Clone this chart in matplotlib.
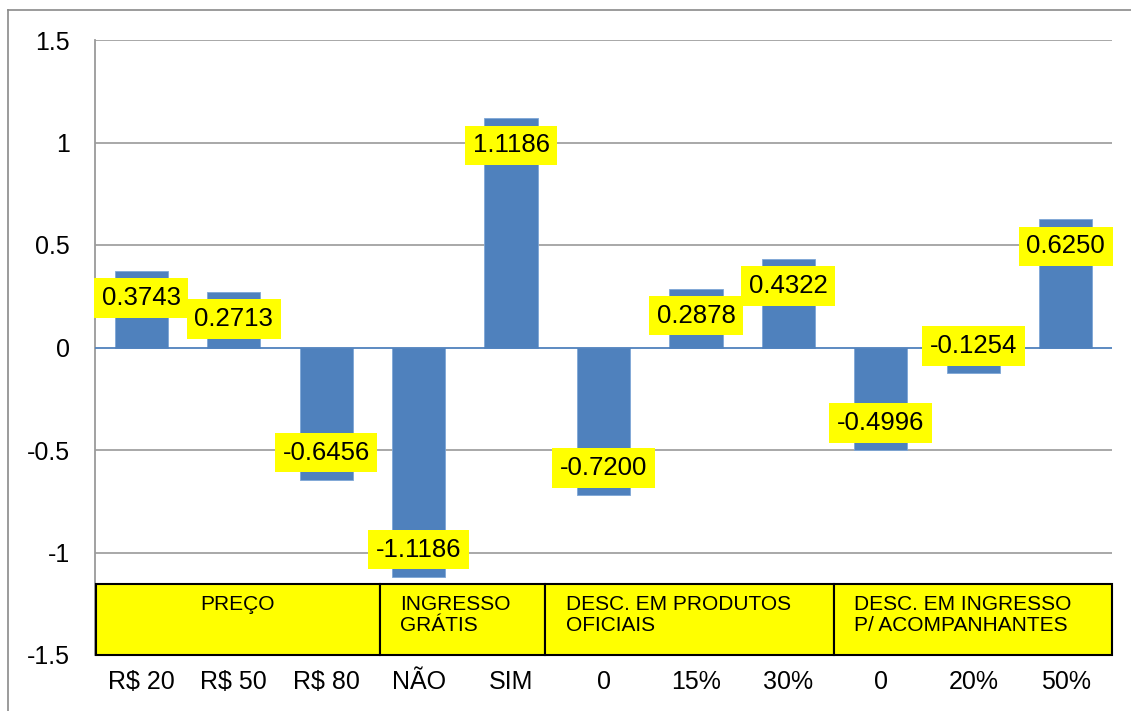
import matplotlib
matplotlib.use("Agg")
import matplotlib.pyplot as plt
import matplotlib.patches as mpatches
from matplotlib.lines import Line2D
import numpy as np

plt.rcParams["font.family"] = ["Liberation Sans", "DejaVu Sans"]

# ---- data ----
categories = ["R$ 20", "R$ 50", "R$ 80", "NÃO", "SIM", "0", "15%", "30%", "0", "20%", "50%"]
values = [0.3743, 0.2713, -0.6456, -1.1186, 1.1186, -0.7200, 0.2878, 0.4322, -0.4996, -0.1254, 0.6250]
groups = ["PREÇO", "INGRESSO\nGRÁTIS", "DESC. EM PRODUTOS\nOFICIAIS", "DESC. EM INGRESSO\nP/ ACOMPANHANTES"]
group_edges = [-0.49, 2.58, 4.37, 7.49, 10.5]
group_centered = [True, False, False, False]

BAR = "#4F81BD"
YEL = "#FFFF00"
GRID = "#9a9a9a"

fig = plt.figure(figsize=(11.31, 7.11), dpi=100)
ax = fig.add_axes([95 / 1131, 1 - 655 / 711, (1112 - 95) / 1131, (655 - 40) / 711])

# outer chart frame (cropped at right/bottom)
fig.add_artist(Line2D([8 / 1131, 1.0], [1 - 10 / 711] * 2, color="#8a8a8a", lw=1.2))
fig.add_artist(Line2D([8 / 1131] * 2, [0.0, 1 - 10 / 711], color="#8a8a8a", lw=1.2))

x = np.arange(len(categories))
ax.bar(x, values, width=0.575, color=BAR, edgecolor="#7ea6d6", linewidth=0.6, zorder=3)

ax.set_xlim(-0.5, len(categories) - 0.5)
ax.set_ylim(-1.5, 1.5)
ax.set_yticks([-1.5, -1, -0.5, 0, 0.5, 1, 1.5])
ax.set_yticklabels(["-1.5", "-1", "-0.5", "0", "0.5", "1", "1.5"])
ax.set_xticks(x)
ax.set_xticklabels(categories)
ax.tick_params(axis="y", length=0, pad=18, labelsize=18)
ax.tick_params(axis="x", length=0, pad=11, labelsize=18)

for s in ["top", "right", "bottom"]:
    ax.spines[s].set_visible(False)
ax.spines["left"].set_color(GRID)
ax.spines["left"].set_linewidth(1.3)

for yv in [-1, -0.5, 0.5, 1, 1.5]:
    ax.axhline(yv, color=GRID, lw=1.2, zorder=1)
ax.axhline(0, color=BAR, lw=1.3, zorder=4)

# value labels (inside end)
for xi, v in zip(x, values):
    ax.annotate(f"{v:.4f}", xy=(xi, v), xytext=(0, -np.sign(v) * 19.5),
                textcoords="offset points", ha="center", va="center",
                fontsize=18.5, zorder=6,
                bbox=dict(boxstyle="square,pad=0.3", fc=YEL, ec="none"))

# category group table
box_top, box_bot = -1.153, -1.5
for i, g in enumerate(groups):
    x0, x1 = group_edges[i], group_edges[i + 1]
    ax.add_patch(mpatches.Rectangle((x0, box_bot), x1 - x0, box_top - box_bot,
                                    fc=YEL, ec="black", lw=1.5, zorder=5, clip_on=False))
    if group_centered[i]:
        ax.text((x0 + x1) / 2, box_top - 0.054, g, ha="center", va="top",
                fontsize=15, linespacing=1.12, zorder=7)
    else:
        ax.text(x0 + 0.22, box_top - 0.054, g, ha="left", va="top",
                fontsize=15, linespacing=1.12, zorder=7)

fig.savefig("out.png", dpi=100)
